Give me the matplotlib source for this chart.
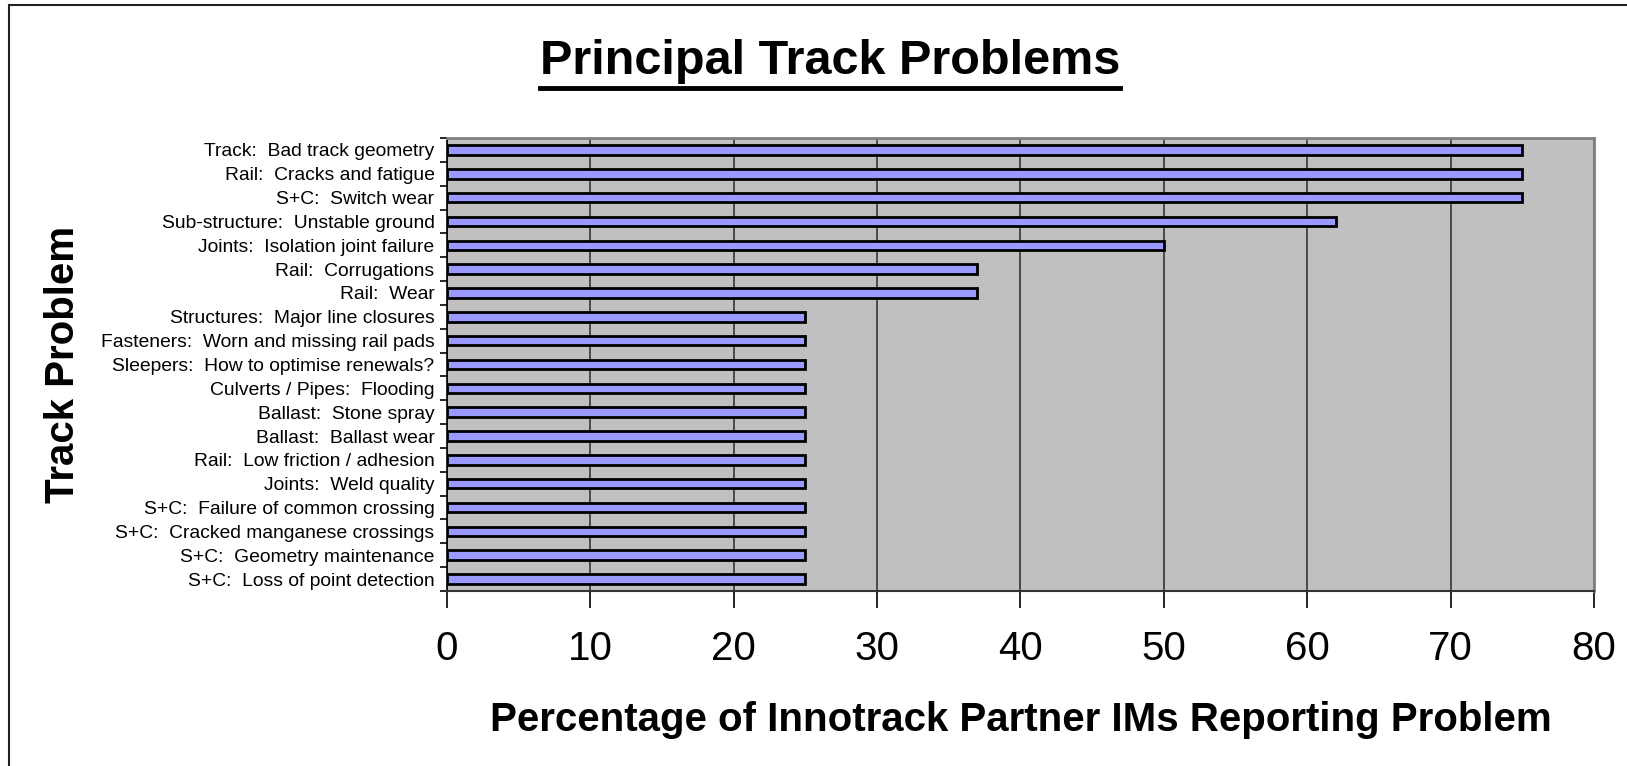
import numpy as np
import matplotlib.pyplot as plt
from matplotlib.patches import Rectangle

plt.rcParams['font.family'] = ['Liberation Sans', 'DejaVu Sans']

# data (top to bottom)
problems = [
    "Track:  Bad track geometry",
    "Rail:  Cracks and fatigue",
    "S+C:  Switch wear",
    "Sub-structure:  Unstable ground",
    "Joints:  Isolation joint failure",
    "Rail:  Corrugations",
    "Rail:  Wear",
    "Structures:  Major line closures",
    "Fasteners:  Worn and missing rail pads",
    "Sleepers:  How to optimise renewals?",
    "Culverts / Pipes:  Flooding",
    "Ballast:  Stone spray",
    "Ballast:  Ballast wear",
    "Rail:  Low friction / adhesion",
    "Joints:  Weld quality",
    "S+C:  Failure of common crossing",
    "S+C:  Cracked manganese crossings",
    "S+C:  Geometry maintenance",
    "S+C:  Loss of point detection",
]
percent = [75, 75, 75, 62, 50, 37, 37, 25, 25, 25, 25, 25, 25, 25, 25, 25, 25, 25, 25]
x_ticks = [0, 10, 20, 30, 40, 50, 60, 70, 80]

fig = plt.figure(figsize=(16.27, 7.66), dpi=100)
ax = fig.add_axes([0.2747, 0.2285, 0.7050, 0.5913])

# outer chart border (left and top visible)
fig.patches.append(Rectangle((9 / 1627, -0.1), 1.2, 1.1 - 5 / 766, transform=fig.transFigure,
                             fill=False, edgecolor='#222222', linewidth=1.5, zorder=0))

ax.set_facecolor('#C0C0C0')
ypos = np.arange(len(problems))
ax.barh(ypos, percent, height=0.4, color='#9999FF', edgecolor='black', linewidth=2.0, zorder=3)

ax.set_xlim(0, 80)
ax.set_ylim(len(problems) - 0.5, -0.5)
ax.set_xticks(x_ticks)
ax.set_xticklabels([str(v) for v in x_ticks], fontsize=29)
ax.tick_params(axis='x', length=12, width=1.2, direction='out', pad=16, color='black')
ax.xaxis.grid(True, color='#404040', linewidth=1.3, zorder=1)
ax.set_axisbelow(True)

ax.set_yticks(ypos)
ax.set_yticklabels(problems, fontsize=13.9)
ax.set_yticks(np.arange(-0.5, len(problems), 1), minor=True)
ax.tick_params(axis='y', which='major', length=0, pad=9)
ax.tick_params(axis='y', which='minor', length=5, width=1.2, direction='out', color='black')

for side in ['top', 'right']:
    ax.spines[side].set_color('#808080')
    ax.spines[side].set_linewidth(2)
ax.spines['left'].set_color('black')
ax.spines['left'].set_linewidth(1.2)
ax.spines['bottom'].set_color('#333333')
ax.spines['bottom'].set_linewidth(1.5)

ax.set_xlabel("Percentage of Innotrack Partner IMs Reporting Problem", fontsize=29,
              fontweight='bold', labelpad=24)
fig.text(63 / 1627, 1 - 364 / 766, "Track Problem", rotation=90, fontsize=29,
         fontweight='bold', ha='center', va='center')

t = fig.text(830 / 1627, 1 - 62 / 766, "Principal Track Problems", fontsize=35,
             fontweight='bold', ha='center', va='center')
fig.canvas.draw()
bb = t.get_window_extent()
fig.add_artist(plt.Line2D([bb.x0 / fig.bbox.width, bb.x1 / fig.bbox.width],
                          [1 - 88 / 766, 1 - 88 / 766], transform=fig.transFigure,
                          color='black', linewidth=3.5))

fig.savefig('out.png', dpi=100)
